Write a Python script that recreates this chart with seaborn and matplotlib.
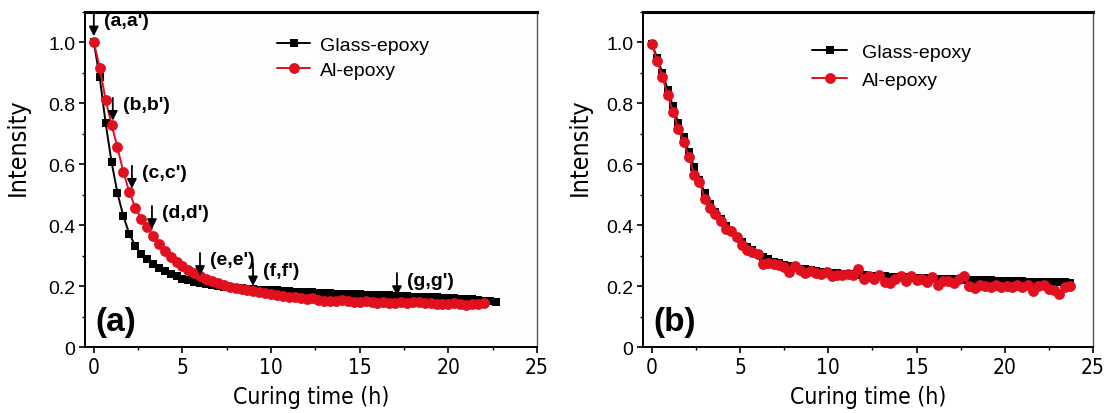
import numpy as np
import pandas as pd
import matplotlib
matplotlib.use("Agg")
import matplotlib.pyplot as plt
from matplotlib.ticker import MultipleLocator, FixedLocator
from matplotlib import font_manager
import seaborn as sns

# ---- data ---------------------------------------------------------------
# (a) sampled every 20 min
STEP_A = 1.0 / 3.0
glass_a = [1.000, 0.885, 0.735, 0.608, 0.505, 0.430, 0.372, 0.333, 0.305, 0.288,
           0.272, 0.260, 0.250, 0.240, 0.232, 0.225, 0.219, 0.214, 0.210, 0.206,
           0.203, 0.200, 0.198, 0.196, 0.194, 0.193, 0.191, 0.190, 0.189, 0.188,
           0.186, 0.186, 0.184, 0.183, 0.182, 0.182, 0.180, 0.180, 0.178, 0.178,
           0.177, 0.176, 0.176, 0.174, 0.174, 0.173, 0.172, 0.172, 0.171, 0.170,
           0.170, 0.169, 0.168, 0.167, 0.166, 0.166, 0.165, 0.164, 0.163, 0.162,
           0.161, 0.160, 0.159, 0.158, 0.157, 0.155, 0.153, 0.150, 0.148]
al_a = [1.000, 0.917, 0.810, 0.730, 0.655, 0.575, 0.510, 0.458, 0.422, 0.395,
        0.366, 0.338, 0.315, 0.296, 0.280, 0.266, 0.254, 0.243, 0.233, 0.224,
        0.216, 0.209, 0.203, 0.198, 0.194, 0.190, 0.187, 0.184, 0.181, 0.178,
        0.175, 0.172, 0.169, 0.166, 0.163, 0.160, 0.158, 0.160, 0.156, 0.153,
        0.151, 0.152, 0.154, 0.151, 0.148, 0.149, 0.151, 0.148, 0.146, 0.147,
        0.144, 0.146, 0.148, 0.145, 0.149, 0.147, 0.144, 0.146, 0.143, 0.141,
        0.143, 0.144, 0.141, 0.139, 0.141, 0.143, 0.144]

# (b) sampled every 18 min
STEP_B = 0.3
glass_b = [0.995, 0.950, 0.900, 0.845, 0.790, 0.735, 0.690, 0.640, 0.590, 0.550,
           0.505, 0.470, 0.445, 0.420, 0.398, 0.380, 0.362, 0.345, 0.330, 0.318,
           0.306, 0.296, 0.288, 0.281, 0.275, 0.270, 0.265, 0.261, 0.258, 0.255,
           0.252, 0.250, 0.248, 0.246, 0.244, 0.242, 0.241, 0.240, 0.239, 0.237,
           0.236, 0.235, 0.234, 0.233, 0.232, 0.231, 0.230, 0.229, 0.229, 0.228,
           0.227, 0.226, 0.226, 0.225, 0.224, 0.224, 0.223, 0.222, 0.222, 0.221,
           0.221, 0.220, 0.220, 0.219, 0.219, 0.218, 0.218, 0.217, 0.217, 0.216,
           0.216, 0.215, 0.215, 0.214, 0.214, 0.214, 0.213, 0.213, 0.213, 0.212]
al_b = [0.995, 0.940, 0.886, 0.826, 0.772, 0.716, 0.672, 0.624, 0.565, 0.543,
        0.487, 0.455, 0.436, 0.414, 0.388, 0.380, 0.360, 0.335, 0.318, 0.312,
        0.305, 0.274, 0.276, 0.272, 0.268, 0.262, 0.247, 0.266, 0.252, 0.244,
        0.250, 0.243, 0.240, 0.245, 0.232, 0.238, 0.236, 0.240, 0.238, 0.255,
        0.225, 0.232, 0.224, 0.238, 0.215, 0.210, 0.222, 0.232, 0.218, 0.234,
        0.220, 0.225, 0.214, 0.230, 0.205, 0.216, 0.218, 0.212, 0.222, 0.232,
        0.200, 0.195, 0.204, 0.200, 0.198, 0.203, 0.196, 0.202, 0.197, 0.205,
        0.199, 0.203, 0.185, 0.200, 0.205, 0.192, 0.186, 0.176, 0.198, 0.200]

series_names = ["Glass-epoxy", "Al-epoxy"]

# arrows marking the sampled states in (a): label, time (h), intensity at arrow tip
marks = ["(a,a')", "(b,b')", "(c,c')", "(d,d')", "(e,e')", "(f,f')", "(g,g')"]
mark_time = [0.0, 1.07, 2.15, 3.28, 5.99, 8.98, 17.1]
mark_tip = [1.02, 0.743, 0.52, 0.388, 0.234, 0.20, 0.168]

x_ticks = [0, 5, 10, 15, 20, 25]
y_ticks = [0, 0.2, 0.4, 0.6, 0.8, 1.0]
y_tick_labels = ["0", "0.2", "0.4", "0.6", "0.8", "1.0"]


def frame(values, step, name):
    t = np.arange(len(values)) * step
    return pd.DataFrame({"t": t, "I": values, "sample": name})


# ---- style ----------------------------------------------------------------
sns.set_theme(style="ticks")
plt.rcParams["font.family"] = ["Liberation Sans", "DejaVu Sans"]
plt.rcParams.update({
    "text.color": "black",
    "axes.labelcolor": "black",
    "xtick.color": "black",
    "ytick.color": "black",
    "xtick.labelcolor": "black",
    "ytick.labelcolor": "black",
})

# a condensed face for the axis titles and x tick labels
narrow = font_manager.FontProperties(family="DejaVu Sans", stretch="condensed")

fig = plt.figure(figsize=(11.09, 4.14), dpi=100)
ax_a = fig.add_axes([0.0766, 0.159, 0.4076, 0.810])
ax_b = fig.add_axes([0.5798, 0.159, 0.4058, 0.810])

styles = {
    "Glass-epoxy": dict(color="black", marker="s", markersize=6.2,
                        markeredgewidth=0, linewidth=1.4),
    "Al-epoxy": dict(color="#e0101e", marker="o", markersize=7.8,
                     markeredgewidth=0, linewidth=1.4),
}

panels = [
    (ax_a, glass_a, al_a, STEP_A, (0.425, 0.928), 1.7, 0.5, 0.38, -0.122),
    (ax_b, glass_b, al_b, STEP_B, (0.376, 0.905), 1.8, 0.75, 0.5, -0.113),
]
for ax, g, r, step, anchor, hl, htp, ls, ylab_x in panels:
    for vals, name in [(g, series_names[0]), (r, series_names[1])]:
        df = frame(vals, step, name)
        sns.lineplot(data=df, x="t", y="I", ax=ax, label=name, **styles[name])

    ax.set_xlim(-0.5, 25)
    ax.set_ylim(0, 1.1)
    ax.xaxis.set_major_locator(FixedLocator(x_ticks))
    ax.xaxis.set_minor_locator(MultipleLocator(2.5))
    ax.yaxis.set_major_locator(FixedLocator(y_ticks))
    ax.yaxis.set_minor_locator(MultipleLocator(0.1))
    ax.set_yticklabels(y_tick_labels, fontsize=14, color="black")
    ax.set_xticklabels([str(v) for v in x_ticks], color="black")
    for lbl in ax.get_xticklabels():
        lbl.set_fontproperties(narrow)
        lbl.set_fontsize(15)
    ax.tick_params(which="major", direction="out", length=4, width=1.2,
                   color="black", labelcolor="black", pad=3)
    ax.tick_params(which="minor", direction="out", length=2.5, width=1.0, color="black")
    ax.set_xlabel("Curing time (h)", fontproperties=narrow, fontsize=16.5,
                  labelpad=6, color="black")
    ax.set_ylabel("Intensity", fontproperties=narrow, fontsize=18, color="black")
    ax.yaxis.set_label_coords(ylab_x, 0.60)
    ax.set_facecolor("#fdfdfd")
    for side in ["left", "bottom"]:
        ax.spines[side].set_linewidth(1.4)
        ax.spines[side].set_color("black")
    ax.spines["top"].set_linewidth(2.2)
    ax.spines["top"].set_color("black")
    ax.spines["right"].set_linewidth(1.0)
    ax.spines["right"].set_color("#555555")
    leg = ax.legend(loc="upper left", bbox_to_anchor=anchor, frameon=False,
                    fontsize=14, handlelength=hl, handletextpad=htp,
                    labelspacing=ls, borderpad=0, borderaxespad=0)
    for txt in leg.get_texts():
        txt.set_color("black")

for ax, tag in [(ax_a, "(a)"), (ax_b, "(b)")]:
    ax.text(0.022, 0.03, tag, transform=ax.transAxes, fontsize=24,
            fontweight="bold", ha="left", va="bottom", color="black")

# downward arrows with state labels on (a)
ARROW_LEN = 0.075
for lab, t, tip in zip(marks, mark_time, mark_tip):
    tail = tip + ARROW_LEN
    ax_a.annotate("", xy=(t, tip), xytext=(t, tail),
                  arrowprops=dict(arrowstyle="-|>", color="black", lw=1.3,
                                  mutation_scale=14, shrinkA=0, shrinkB=0))
    ax_a.annotate(lab, xy=(t, tail), xytext=(7, -5), textcoords="offset points",
                  ha="left", va="center", fontsize=14, fontweight="bold",
                  color="black")

fig.savefig("out.png", dpi=100, facecolor="white")
